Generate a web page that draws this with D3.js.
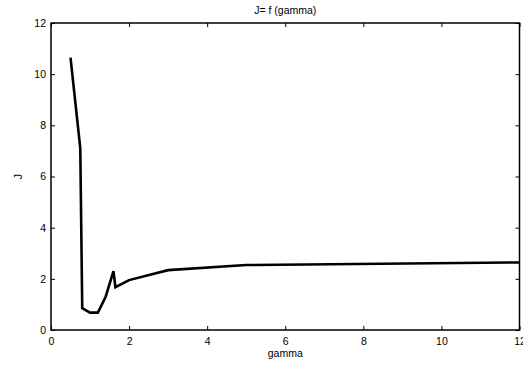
<!DOCTYPE html>
<html>
<head>
<meta charset="utf-8">
<script src="https://cdn.jsdelivr.net/npm/d3@7/dist/d3.min.js"></script>
<style>
  html, body { margin: 0; padding: 0; background: #fff; }
  svg { display: block; font-family: "Liberation Sans", Arial, Helvetica, sans-serif; }
</style>
</head>
<body>
<svg id="chart" width="523" height="367"></svg>
<script>
// J as a function of gamma
const gammaValues = [0.5, 0.75, 0.8, 1.0, 1.2, 1.4, 1.6, 1.65, 2.0, 3.0, 5.0, 12.0];
const jValues     = [10.65, 7.1, 0.85, 0.68, 0.68, 1.3, 2.3, 1.67, 1.95, 2.34, 2.54, 2.64];
const xTicks = [0, 2, 4, 6, 8, 10, 12];
const yTicks = [0, 2, 4, 6, 8, 10, 12];

const svg = d3.select("#chart");
const margin = { left: 51, right: 3, top: 23, bottom: 37 };
const W = 523, H = 367;

const x = d3.scaleLinear().domain([0, 12]).range([margin.left, W - margin.right - 0.5]);
const y = d3.scaleLinear().domain([0, 12]).range([H - margin.bottom, margin.top]);

const tickLen = 4;
const fontSize = 10.5;

// bottom axis
const gx = svg.append("g").attr("transform", `translate(0,${y(0)})`)
  .call(d3.axisBottom(x).tickValues(xTicks).tickFormat(d3.format("d")).tickSizeInner(-tickLen).tickSizeOuter(0).tickPadding(8));
// left axis
const gy = svg.append("g").attr("transform", `translate(${x(0)},0)`)
  .call(d3.axisLeft(y).tickValues(yTicks).tickFormat(d3.format("d")).tickSizeInner(-tickLen).tickSizeOuter(0).tickPadding(5));
// mirrored ticks on top and right
const gt = svg.append("g").attr("transform", `translate(0,${y(12)})`)
  .call(d3.axisTop(x).tickValues(xTicks).tickFormat("").tickSizeInner(-tickLen).tickSizeOuter(0));
const gr = svg.append("g").attr("transform", `translate(${x(12)},0)`)
  .call(d3.axisRight(y).tickValues(yTicks).tickFormat("").tickSizeInner(-tickLen).tickSizeOuter(0));

[gx, gy, gt, gr].forEach(g => {
  g.select(".domain").remove();
  g.selectAll("line").attr("stroke", "#000").attr("stroke-width", 1);
  g.selectAll("text").attr("fill", "#000").style("font-size", fontSize + "px")
    .style("font-family", '"Liberation Sans", Arial, sans-serif');
});

// axes box
svg.append("rect")
  .attr("x", x(0)).attr("y", y(12))
  .attr("width", x(12) - x(0)).attr("height", y(0) - y(12))
  .attr("fill", "none").attr("stroke", "#000").attr("stroke-width", 1.5);

// data line
const line = d3.line().x((d, i) => x(gammaValues[i])).y(d => y(d));
svg.append("path")
  .datum(jValues)
  .attr("d", line)
  .attr("fill", "none")
  .attr("stroke", "#000")
  .attr("stroke-width", 2.6)
  .attr("stroke-linejoin", "miter");

// labels
svg.append("text")
  .attr("x", (x(0) + x(12)) / 2).attr("y", 14)
  .attr("text-anchor", "middle")
  .style("font-size", fontSize + "px")
  .text("J= f (gamma)");

svg.append("text")
  .attr("x", (x(0) + x(12)) / 2).attr("y", 357)
  .attr("text-anchor", "middle")
  .style("font-size", fontSize + "px")
  .text("gamma");

svg.append("text")
  .attr("transform", `translate(22,${(y(0) + y(12)) / 2}) rotate(-90)`)
  .attr("text-anchor", "middle")
  .style("font-size", fontSize + "px")
  .text("J");
</script>
</body>
</html>
